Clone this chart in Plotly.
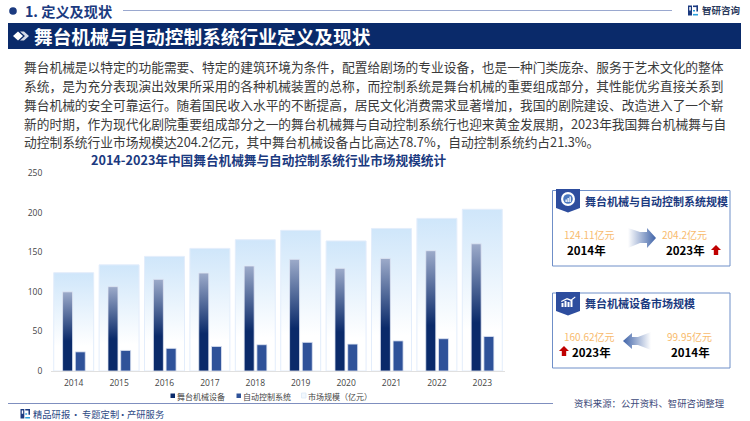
import plotly.graph_objects as go

years = ["2014", "2015", "2016", "2017", "2018", "2019", "2020", "2021", "2022", "2023"]
market_size = [124.11, 134, 144.7, 154.8, 165.8, 177.6, 164.2, 180, 192.7, 204.2]
equipment = [99.95, 106.5, 115.7, 123.7, 132.6, 141, 129.6, 142.2, 151.9, 160.62]
control = [24.16, 26, 28.6, 31, 33.2, 36.2, 34, 38, 40.8, 43.6]
y_ticks = [0, 50, 100, 150, 200, 250]

body_lines = [
    "舞台机械是以特定的功能需要、特定的建筑环境为条件，配置给剧场的专业设备，也是一种门类庞杂、服务于艺术文化的整体",
    "系统，是为充分表现演出效果所采用的各种机械装置的总称，而控制系统是舞台机械的重要组成部分，其性能优劣直接关系到",
    "舞台机械的安全可靠运行。随着国民收入水平的不断提高，居民文化消费需求显著增加，我国的剧院建设、改造进入了一个崭",
    "新的时期，作为现代化剧院重要组成部分之一的舞台机械舞与自动控制系统行也迎来黄金发展期，2023年我国舞台机械舞与自",
    "动控制系统行业市场规模达204.2亿元，其中舞台机械设备占比高达78.7%，自动控制系统约占21.3%。",
]

NAVY = "#0a2a6a"
TITLE_BLUE = "#1b3a80"
ORANGE = "#f8bb6e"
FONT = "Noto Sans CJK SC"

# plot area in page pixels, everything else is placed relative to it
LEFT, RIGHT, TOP, BOTTOM = 51, 505, 173, 371


def px(x):
    return (x - LEFT) / (RIGHT - LEFT)


def py(y):
    return (BOTTOM - y) / (BOTTOM - TOP)


def text(x, y, s, size, color, bold=False, anchor="left"):
    if bold:
        s = f"<b>{s}</b>"
    return dict(
        x=px(x), y=py(y), xref="paper", yref="paper", text=s, showarrow=False,
        xanchor=anchor, yanchor="middle", borderpad=0, borderwidth=0,
        font=dict(family=FONT, size=size, color=color),
    )


def rect(x0, y0, x1, y1, fill="rgba(0,0,0,0)", line="rgba(0,0,0,0)", width=0):
    return dict(
        type="rect", xref="paper", yref="paper",
        x0=px(x0), x1=px(x1), y0=py(y0), y1=py(y1),
        fillcolor=fill, line=dict(color=line, width=width), layer="above",
    )


def hline(x0, x1, y, color, width=1):
    return dict(
        type="line", xref="paper", yref="paper",
        x0=px(x0), x1=px(x1), y0=py(y), y1=py(y),
        line=dict(color=color, width=width), layer="above",
    )


def circle(cx, cy, r, fill):
    return dict(
        type="circle", xref="paper", yref="paper",
        x0=px(cx - r), x1=px(cx + r), y0=py(cy - r), y1=py(cy + r),
        fillcolor=fill, line=dict(width=0), layer="above",
    )


def poly(points, fill):
    d = "M" + " L".join(f"{px(x):.5f},{py(y):.5f}" for x, y in points) + " Z"
    return dict(
        type="path", xref="paper", yref="paper", path=d,
        fillcolor=fill, line=dict(width=0), layer="above",
    )


def up_arrow(x, y):
    return poly([(x, y + 5), (x + 5, y), (x + 10, y + 5), (x + 7.2, y + 5), (x + 7.2, y + 10),
                 (x + 2.8, y + 10), (x + 2.8, y + 5)], "#c00000")


def logo(x, y, s, color1, color2):
    return [
        rect(x, y, x + 4 * s, y + 10 * s, fill=color1),
        rect(x + 1.3 * s, y + 1.5 * s, x + 2.8 * s, y + 5 * s, fill="white"),
        rect(x + 5 * s, y, x + 10 * s, y + 1.6 * s, fill=color1),
        rect(x + 8.4 * s, y, x + 10 * s, y + 6 * s, fill=color1),
        rect(x + 5 * s, y + 4.5 * s, x + 7 * s, y + 6 * s, fill=color2),
        rect(x + 5 * s, y + 8.4 * s, x + 10 * s, y + 10 * s, fill=color2),
    ]


fig = go.Figure()
fig.add_trace(go.Bar(
    x=years, y=market_size, name="市场规模（亿元）", width=0.88,
    marker=dict(color="#dcedfb", line=dict(color="#e3edfb", width=1)),
))
fig.add_trace(go.Bar(
    x=years, y=equipment, name="舞台机械设备", width=0.22, offset=-0.245,
    marker=dict(color=NAVY, line=dict(color="#dfe6f4", width=0.8)),
))
fig.add_trace(go.Bar(
    x=years, y=control, name="自动控制系统", width=0.22, offset=0.035,
    marker=dict(color="#2f5299", line=dict(color="#dfe6f4", width=0.8)),
))

annotations = [
    text(25, 11, "1. 定义及现状", 14.2, TITLE_BLUE, bold=True),
    text(34, 35.5, "舞台机械与自动控制系统行业定义及现状", 18.7, "white", bold=True),
    text(702, 10, "智研咨询", 9.5, "#2b3a5c", bold=True),
    text(91, 159.3, "2014-2023年中国舞台机械舞与自动控制系统行业市场规模统计", 12.65, TITLE_BLUE, bold=True),
    text(177, 396, "舞台机械设备", 8, "#444444"),
    text(243, 396, "自动控制系统", 8, "#444444"),
    text(308, 396, "市场规模（亿元）", 8, "#444444"),
    text(33, 414, "精品研报", 9.3, "#2d4a86"),
    text(75.5, 414, "·", 9.3, "#2d4a86", anchor="center"),
    text(82, 414, "专题定制", 9.3, "#2d4a86"),
    text(122.5, 414, "·", 9.3, "#2d4a86", anchor="center"),
    text(127, 414, "产研服务", 9.3, "#2d4a86"),
    text(574, 403, "资料来源：公开资料、智研咨询整理", 9.4, "#3d4a7a"),
    text(585, 201, "舞台机械与自动控制系统规模", 11, TITLE_BLUE, bold=True),
    text(564, 234.5, f"{market_size[0]}亿元", 10, ORANGE),
    text(567, 250, "2014年", 11.5, "black", bold=True),
    text(662, 234.5, f"{market_size[-1]}亿元", 10, ORANGE),
    text(666, 250, "2023年", 11.5, "black", bold=True),
    text(585, 303, "舞台机械设备市场规模", 11, TITLE_BLUE, bold=True),
    text(564, 336.5, f"{equipment[-1]}亿元", 10, ORANGE),
    text(572, 352, "2023年", 11.5, "black", bold=True),
    text(667, 336.5, f"{equipment[0]}亿元", 10, ORANGE),
    text(671, 352, "2014年", 11.5, "black", bold=True),
]
for i, line in enumerate(body_lines):
    annotations.append(text(24, 66.6 + i * 18.83, line, 12.73, "#3a3a3a"))

shapes = [
    circle(13, 11, 3.8, TITLE_BLUE),
    hline(123, 672, 10.5, "#9aa8cf"),
    rect(8, 23, 741, 49, fill=NAVY),
    poly([(13, 36), (18, 31.5), (23, 36), (18, 40.5)], "white"),
    poly([(20, 31.5), (24, 31.5), (29, 36), (24, 40.5), (20, 40.5), (25, 36)], "#d5dbe8"),
    # legend swatches
    rect(170.5, 393.5, 175, 398, fill=NAVY),
    rect(236.5, 393.5, 241, 398, fill="#2f5299"),
    rect(301.5, 393, 306, 398, fill="#f2f8fe", line="#dce8f8", width=0.8),
    hline(8, 553, 403.5, "#7f8fbf", 1),
    # panel 1
    rect(552.5, 190.5, 730, 266, fill="white", line="#6f8fc8", width=1),
    poly([(556, 189), (580, 189), (580, 208), (568, 212.5), (556, 208)], "#2d4d9e"),
    circle(568, 199, 7, "white"),
    circle(568, 199, 4.8, "#4a78c0"),
    rect(565.5, 199.5, 566.8, 202, fill="white"),
    rect(567.5, 198, 568.8, 202, fill="white"),
    rect(569.5, 196.5, 570.8, 202, fill="white"),
    poly([(628, 228), (640, 232), (647, 232), (647, 228), (656, 238), (647, 248), (647, 243), (640, 243), (628, 248)],
         "rgb(1,2,3)"),
    up_arrow(711, 245),
    # panel 2
    rect(552.5, 293, 730, 368, fill="white", line="#6f8fc8", width=1),
    poly([(556, 292), (580, 292), (580, 311), (568, 315.5), (556, 311)], "#2d4d9e"),
    rect(561.5, 303, 563.5, 307, fill="white"),
    rect(564.5, 301, 566.5, 307, fill="white"),
    rect(567.5, 302, 569.5, 307, fill="white"),
    rect(570.5, 300, 572.5, 307, fill="white"),
    poly([(561, 301), (567, 298), (571, 299.5), (575, 296.5), (575.5, 297.5), (571, 301), (567, 299.5), (561.5, 302)],
         "white"),
    poly([(651, 332), (638, 337), (632, 337), (632, 333), (623, 341), (632, 349), (632, 345), (638, 345), (651, 350)],
         "rgb(4,5,6)"),
    up_arrow(559, 346),
]
shapes += logo(688, 5.5, 1.0, "#1b3a80", "#2aa0dc")
shapes += logo(20.5, 409, 0.95, "#1b3a80", "#2aa0dc")

fig.update_layout(
    width=750, height=421,
    margin=dict(l=LEFT, r=750 - RIGHT, t=TOP, b=421 - BOTTOM, pad=0),
    paper_bgcolor="white", plot_bgcolor="white",
    barmode="overlay", showlegend=False,
    font=dict(family=FONT, size=8.5, color="#444444"),
    annotations=annotations, shapes=shapes,
)
fig.update_xaxes(
    type="category", categoryorder="array", categoryarray=years,
    showgrid=False, showline=True, linecolor="#e0e0e0", linewidth=1,
    ticks="outside", ticklen=4, tickcolor="rgba(0,0,0,0)",
    tickfont=dict(family="Open Sans", size=8.5, color="#444444"),
)
fig.update_yaxes(
    range=[0, 250], tickvals=y_ticks, showgrid=False, zeroline=False, showline=False,
    ticks="outside", ticklen=6, tickcolor="rgba(0,0,0,0)",
    tickfont=dict(family="Open Sans", size=8.5, color="#444444"),
)

# plotly has no gradient fills, so they are set on the drawn svg marks afterwards
gradient_js = """
document.body.style.margin = '0';
var gd = document.querySelector('.plotly-graph-div');
var svg = gd.querySelector('.main-svg');
var NS = 'http://www.w3.org/2000/svg';
var defs = svg.querySelector('defs');
function grad(id, x2, y2, stops) {
    var g = document.createElementNS(NS, 'linearGradient');
    g.setAttribute('id', id);
    g.setAttribute('x1', 0); g.setAttribute('y1', 0);
    g.setAttribute('x2', x2); g.setAttribute('y2', y2);
    stops.forEach(function (s) {
        var st = document.createElementNS(NS, 'stop');
        st.setAttribute('offset', s[0]);
        st.setAttribute('stop-color', s[1]);
        g.appendChild(st);
    });
    defs.appendChild(g);
}
grad('gradMarket', 0, 1, [[0, '#cfe6fa'], [0.75, '#ffffff']]);
grad('gradEquip', 0, 1, [[0, '#9dabca'], [0.62, '#0a2a6a'], [1, '#0a2a6a']]);
grad('gradRight', 1, 0, [[0, '#ffffff'], [1, '#3f63a8']]);
grad('gradLeft', 1, 0, [[0, '#3f63a8'], [1, '#ffffff']]);
var traces = gd.querySelectorAll('.barlayer .trace');
traces[0].querySelectorAll('path').forEach(function (p) { p.style.fill = 'url(#gradMarket)'; });
traces[1].querySelectorAll('path').forEach(function (p) { p.style.fill = 'url(#gradEquip)'; });
gd.querySelectorAll('.shapelayer path').forEach(function (p) {
    if (p.style.fill === 'rgb(1, 2, 3)') p.style.fill = 'url(#gradRight)';
    if (p.style.fill === 'rgb(4, 5, 6)') p.style.fill = 'url(#gradLeft)';
});
"""

fig.write_html("out.html", post_script=gradient_js, config=dict(displayModeBar=False))
